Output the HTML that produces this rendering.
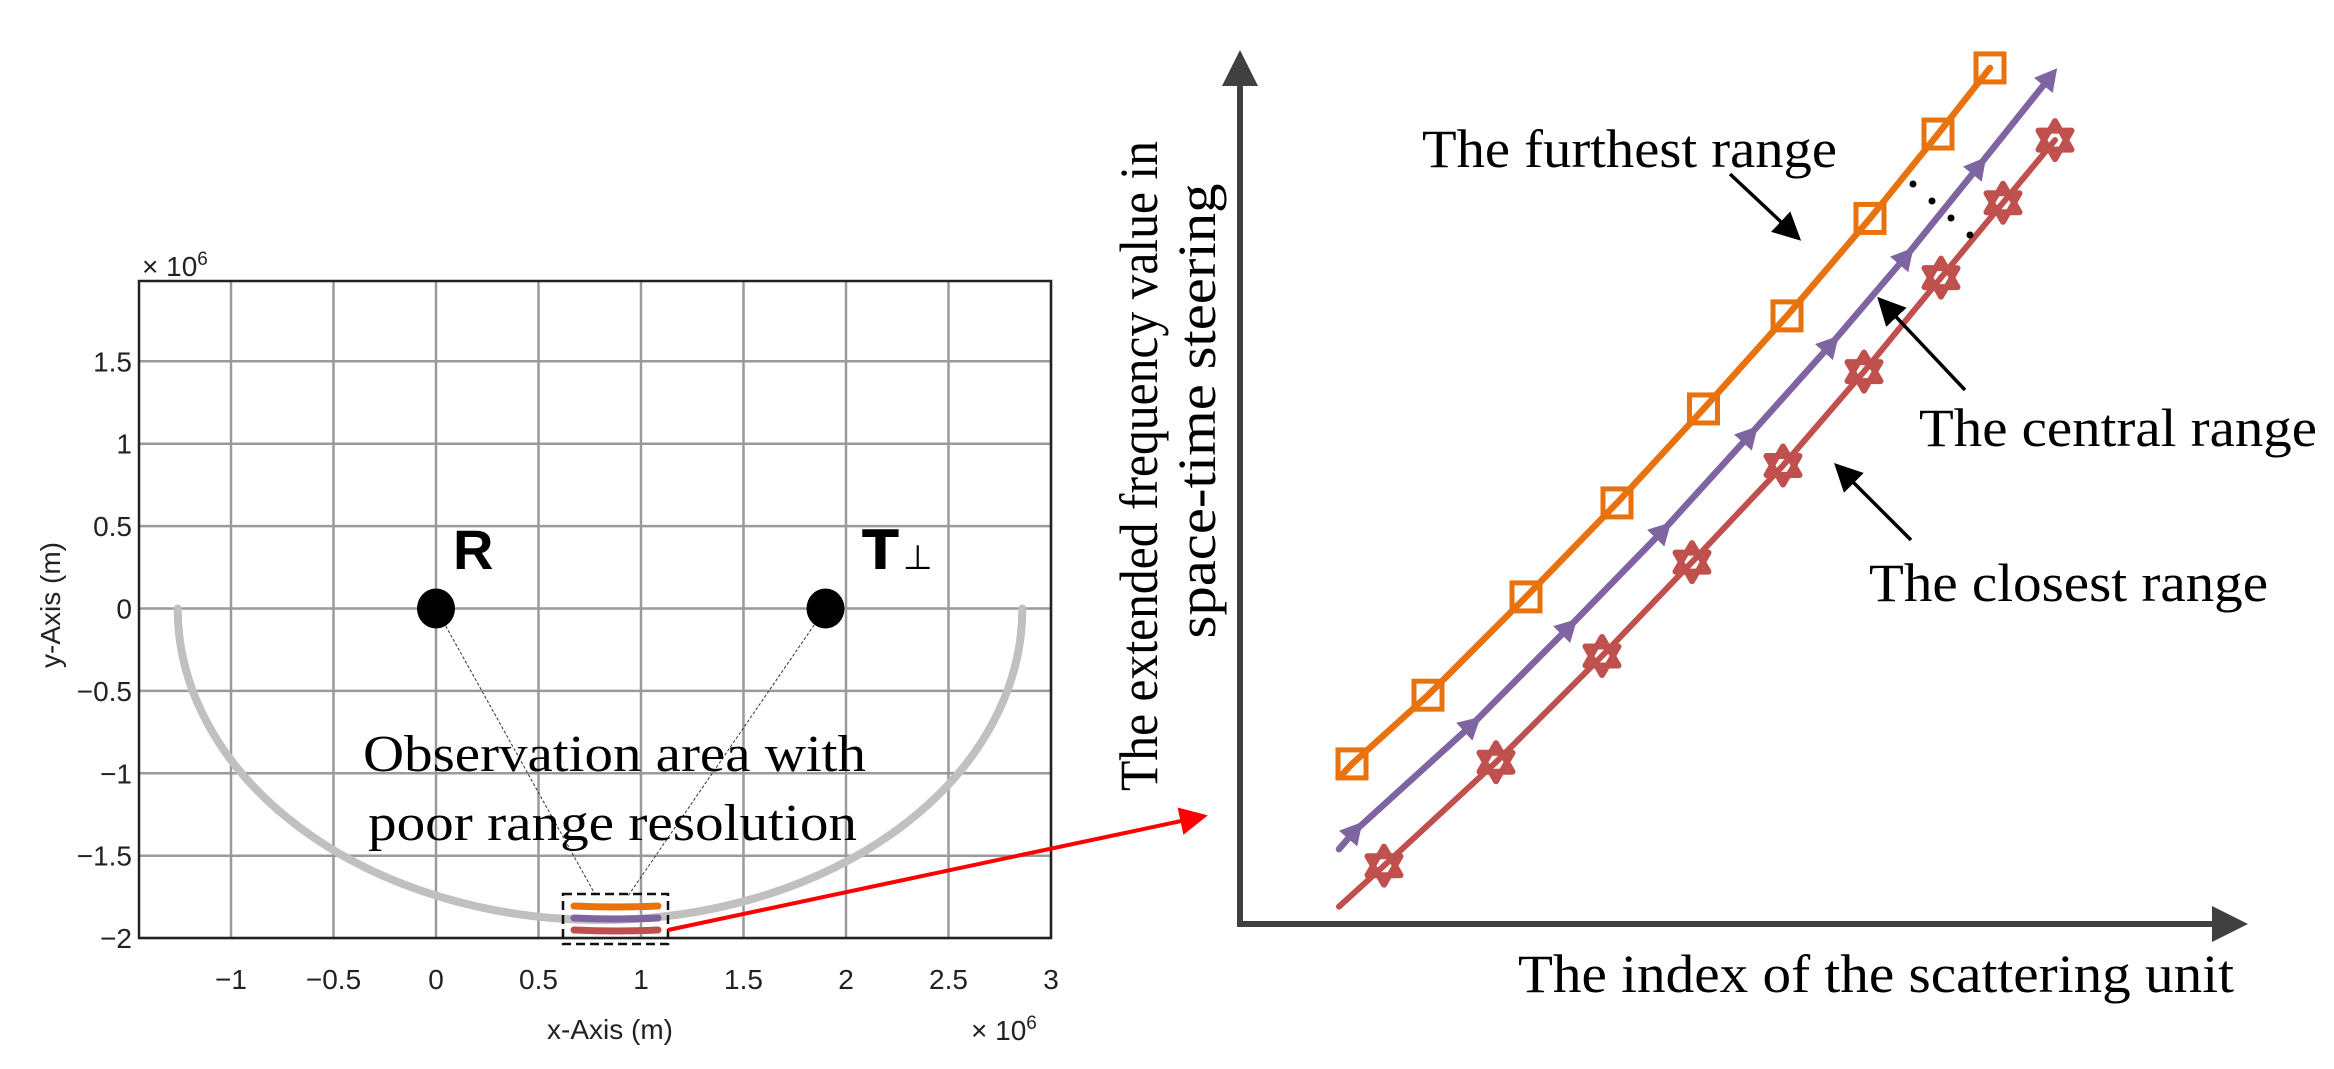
<!DOCTYPE html>
<html><head><meta charset="utf-8"><style>
html,body{margin:0;padding:0;background:#fff;}
svg{display:block;}
.tick{font-family:"Liberation Sans",sans-serif;font-size:28px;fill:#222;}
.serif{font-family:"Liberation Serif",serif;fill:#000;}
</style></head><body>
<svg id="fig" width="2334" height="1069" viewBox="0 0 2334 1069" xmlns="http://www.w3.org/2000/svg">
<defs>
<marker id="blackHead" markerWidth="8" markerHeight="8" refX="6" refY="4" orient="auto" markerUnits="strokeWidth"><path d="M0,0 L8,4 L0,8 z" fill="#000"/></marker>
<marker id="redHead" markerWidth="7" markerHeight="7" refX="5" refY="3.5" orient="auto" markerUnits="strokeWidth"><path d="M0,0 L7,3.5 L0,7 z" fill="#f00"/></marker>
<marker id="axHead" markerWidth="6" markerHeight="6" refX="4" refY="3" orient="auto" markerUnits="strokeWidth"><path d="M0,0 L6,3 L0,6 z" fill="#404040"/></marker>
</defs>
<g id="left"></g>
<g id="right"></g>
</svg>
<script>
// ---- left plot data ----
const xTicks = [-1, -0.5, 0, 0.5, 1, 1.5, 2, 2.5, 3];
const xTickLabels = ["\u22121", "\u22120.5", "0", "0.5", "1", "1.5", "2", "2.5", "3"];
const yTicks = [-2, -1.5, -1, -0.5, 0, 0.5, 1, 1.5];
const yTickLabels = ["\u22122", "\u22121.5", "\u22121", "\u22120.5", "0", "0.5", "1", "1.5"];
const receiverPos = [0, 0];
const transmitterPos = [1.9, 0];
const orbitEnds = [-1.26, 2.86];
const orbitBottom = -1.89;

// ---- right chart data ----
const orangeX = [10.0, 11.2, 18.8, 28.6, 37.7, 46.35, 54.7, 63.0, 69.8, 75.0];
const orangeY = [16.9, 18.4, 26.3, 37.6, 48.4, 59.2, 69.9, 81.1, 90.8, 98.4];
const purpleX = [9.9, 11.4, 23.1, 32.8, 42.2, 50.9, 59.0, 66.5, 73.8, 80.9];
const purpleY = [8.6, 10.6, 22.8, 34.0, 45.1, 56.1, 66.5, 76.6, 87.0, 97.2];
const redX = [9.9, 14.4, 25.6, 36.2, 45.2, 54.3, 62.4, 70.1, 76.3, 81.5];
const redY = [2.0, 6.7, 18.6, 30.8, 41.6, 52.7, 63.5, 74.3, 82.9, 90.1];

const NS = "http://www.w3.org/2000/svg";
function mk(parent, tag, attrs, text) {
  const e = document.createElementNS(NS, tag);
  for (const k in attrs) e.setAttribute(k, attrs[k]);
  if (text !== undefined) e.textContent = text;
  parent.appendChild(e);
  return e;
}
const L = document.getElementById('left');
const R = document.getElementById('right');

const lx = v => 436 + 205 * v;
const ly = v => 608.5 - 164.8 * v;
const LX0 = 139, LX1 = 1051, LY0 = 281, LY1 = 938;

xTicks.forEach((t, i) => {
  const g = mk(L, 'line', {x1: lx(t), x2: lx(t), y1: LY0, y2: LY1, stroke: '#9a9a9a', 'stroke-width': 2.5});
  
  
  const lb = mk(L, 'text', {x: lx(t), y: 989, 'text-anchor': 'middle', class: 'tick'}, xTickLabels[i]);
  
  
});
yTicks.forEach((t, i) => {
  const g = mk(L, 'line', {x1: LX0, x2: LX1, y1: ly(t), y2: ly(t), stroke: '#9a9a9a', 'stroke-width': 2.5});
  
  
  const lb = mk(L, 'text', {x: 132, y: ly(t) + 10, 'text-anchor': 'end', class: 'tick'}, yTickLabels[i]);
  
  
});
const box = mk(L, 'rect', {x: LX0, y: LY0, width: LX1 - LX0, height: LY1 - LY0, fill: 'none', stroke: '#222', 'stroke-width': 2.5});



const rxp = (lx(orbitEnds[1]) - lx(orbitEnds[0])) / 2;
const ryp = ly(orbitBottom) - ly(0);
const arc = mk(L, 'path', {d: `M${lx(orbitEnds[0])},${ly(0)} A${rxp},${ryp} 0 0 0 ${lx(orbitEnds[1])},${ly(0)}`, fill: 'none', stroke: '#c0c0c0', 'stroke-width': 8, 'stroke-linecap': 'round'});



const s1 = mk(L, 'line', {x1: lx(receiverPos[0]), y1: ly(receiverPos[1]), x2: 596, y2: 896, stroke: '#333', 'stroke-width': 1, 'stroke-dasharray': '3,2'});


const s2 = mk(L, 'line', {x1: lx(transmitterPos[0]), y1: ly(transmitterPos[1]), x2: 628, y2: 896, stroke: '#333', 'stroke-width': 1, 'stroke-dasharray': '3,2'});



const rd = mk(L, 'ellipse', {cx: lx(receiverPos[0]), cy: ly(receiverPos[1]), rx: 19, ry: 20, fill: '#000'});


const td = mk(L, 'ellipse', {cx: lx(transmitterPos[0]), cy: ly(transmitterPos[1]), rx: 19, ry: 20, fill: '#000'});


const rl = mk(L, 'text', {x: 453, y: 569, 'font-family': '"Liberation Sans",sans-serif', 'font-weight': 'bold', 'font-size': 56}, 'R');


const tl = mk(L, 'text', {x: 862, y: 569, 'font-family': '"DejaVu Sans","Liberation Sans",sans-serif', 'font-weight': 'bold', 'font-size': 54}, 'T');


mk(tl, 'tspan', {'font-size': 34, 'font-weight': 'normal', dx: 4}, '\u22A5');

const ob = mk(L, 'rect', {x: 563, y: 894, width: 105, height: 50, fill: 'none', stroke: '#111', 'stroke-width': 2.5, 'stroke-dasharray': '9,5'});


[['#E8720E', 906], ['#7E64A0', 918], ['#C0504D', 930]].forEach(c => {
  const p = mk(L, 'path', {d: `M574,${c[1]} Q616,${c[1] + 2} 658,${c[1]}`, fill: 'none', stroke: c[0], 'stroke-width': 7, 'stroke-linecap': 'round'});
  
  
});
const ra = mk(L, 'line', {x1: 668, y1: 930, x2: 1200, y2: 817, stroke: '#f00', 'stroke-width': 4, 'marker-end': 'url(#redHead)'});



const o1 = mk(L, 'text', {x: 363, y: 771, class: 'serif', 'font-size': 52, textLength: 503, lengthAdjust: 'spacingAndGlyphs'}, 'Observation area with');


const o2 = mk(L, 'text', {x: 368, y: 840, class: 'serif', 'font-size': 52, textLength: 489, lengthAdjust: 'spacingAndGlyphs'}, 'poor range resolution');



const e1 = mk(L, 'text', {x: 142, y: 276, class: 'tick', 'font-size': 27}, '\u00D7 10');


mk(e1, 'tspan', {dy: -11, 'font-size': 19}, '6');
const e2 = mk(L, 'text', {x: 971, y: 1040, class: 'tick', 'font-size': 27}, '\u00D7 10');


mk(e2, 'tspan', {dy: -11, 'font-size': 19}, '6');
const xl = mk(L, 'text', {x: 610, y: 1039, 'text-anchor': 'middle', class: 'tick', 'font-size': 33}, 'x-Axis (m)');


const yl = mk(L, 'text', {x: 0, y: 0, 'text-anchor': 'middle', class: 'tick', 'font-size': 33, transform: 'translate(60,605) rotate(-90)'}, 'y-Axis (m)');



// ---- right chart ----
const rx = v => 1240 + 10 * v;
const ry = v => 924 - 8.7 * v;
const ya = mk(R, 'line', {x1: 1240, y1: 924, x2: 1240, y2: 62, stroke: '#404040', 'stroke-width': 6, 'marker-end': 'url(#axHead)'});


const xa = mk(R, 'line', {x1: 1237, y1: 924, x2: 2236, y2: 924, stroke: '#404040', 'stroke-width': 6, 'marker-end': 'url(#axHead)'});



function series(xs, ys, color, w, name) {
  let d = '';
  xs.forEach((x, i) => d += (i ? 'L' : 'M') + rx(x) + ',' + ry(ys[i]));
  const p = mk(R, 'path', {d, fill: 'none', stroke: color, 'stroke-width': w, 'stroke-linejoin': 'round', 'stroke-linecap': 'round'});
  
  
}
series(orangeX, orangeY, '#E8720E', 6.5, 'furthest-range');
series(purpleX, purpleY, '#7E64A0', 6.5, 'central-range');
series(redX, redY, '#C0504D', 6, 'closest-range');

for (let i = 1; i < orangeX.length; i++) {
  const m = mk(R, 'rect', {x: rx(orangeX[i]) - 14, y: ry(orangeY[i]) - 14, width: 28, height: 28, fill: 'none', stroke: '#E8720E', 'stroke-width': 5});
  
  
}
for (let i = 1; i < purpleX.length; i++) {
  const x = rx(purpleX[i]), y = ry(purpleY[i]);
  const px = rx(purpleX[i - 1]), py = ry(purpleY[i - 1]);
  const ang = Math.atan2(y - py, x - px) * 180 / Math.PI;
  const m = mk(R, 'path', {d: 'M13,0 L-9,-12 L-9,12 Z', fill: '#7E64A0', transform: `translate(${x},${y}) rotate(${ang})`});
  
  
}
for (let i = 1; i < redX.length; i++) {
  const x = rx(redX[i]), y = ry(redY[i]), r = 19;
  const tri = k => [0, 1, 2].map(j => { const a = (k + j * 120 - 90) * Math.PI / 180; return (x + r * Math.cos(a)).toFixed(1) + ',' + (y + r * Math.sin(a)).toFixed(1); }).join(' ');
  const g = mk(R, 'g', {fill: 'none', stroke: '#C0504D', 'stroke-width': 6, 'stroke-linejoin': 'round'});
  
  
  mk(g, 'polygon', {points: tri(0)});
  mk(g, 'polygon', {points: tri(60)});
}

for (let k = 0; k < 4; k++) {
  const dt = mk(R, 'circle', {cx: 1913 + k * 19, cy: 184 + k * 17, r: 3.5, fill: '#000'});
  
  
}

const anns = [
  ['furthest-range-label', 'The furthest range', 1422, 167, 415, [1730, 174, 1796, 236]],
  ['central-range-label', 'The central range', 1919, 446, 398, [1965, 390, 1882, 302]],
  ['closest-range-label', 'The closest range', 1869, 601, 399, [1911, 540, 1839, 468]]
];
anns.forEach(a => {
  const t = mk(R, 'text', {x: a[2], y: a[3], class: 'serif', 'font-size': 54, textLength: a[4], lengthAdjust: 'spacingAndGlyphs'}, a[1]);
  
  
  const l = mk(R, 'line', {x1: a[5][0], y1: a[5][1], x2: a[5][2], y2: a[5][3], stroke: '#000', 'stroke-width': 3.5, 'marker-end': 'url(#blackHead)'});
  
  
});
const xt = mk(R, 'text', {x: 1518, y: 992, class: 'serif', 'font-size': 54, textLength: 716, lengthAdjust: 'spacingAndGlyphs'}, 'The index of the scattering unit');


const yt1 = mk(R, 'text', {x: 0, y: 0, class: 'serif', 'font-size': 54, 'text-anchor': 'middle', textLength: 650, lengthAdjust: 'spacingAndGlyphs', transform: 'translate(1157,466) rotate(-90)'}, 'The extended frequency value in');


const yt2 = mk(R, 'text', {x: 0, y: 0, class: 'serif', 'font-size': 54, 'text-anchor': 'middle', textLength: 455, lengthAdjust: 'spacingAndGlyphs', transform: 'translate(1215,411) rotate(-90)'}, 'space-time steering');


</script>
</body></html>
